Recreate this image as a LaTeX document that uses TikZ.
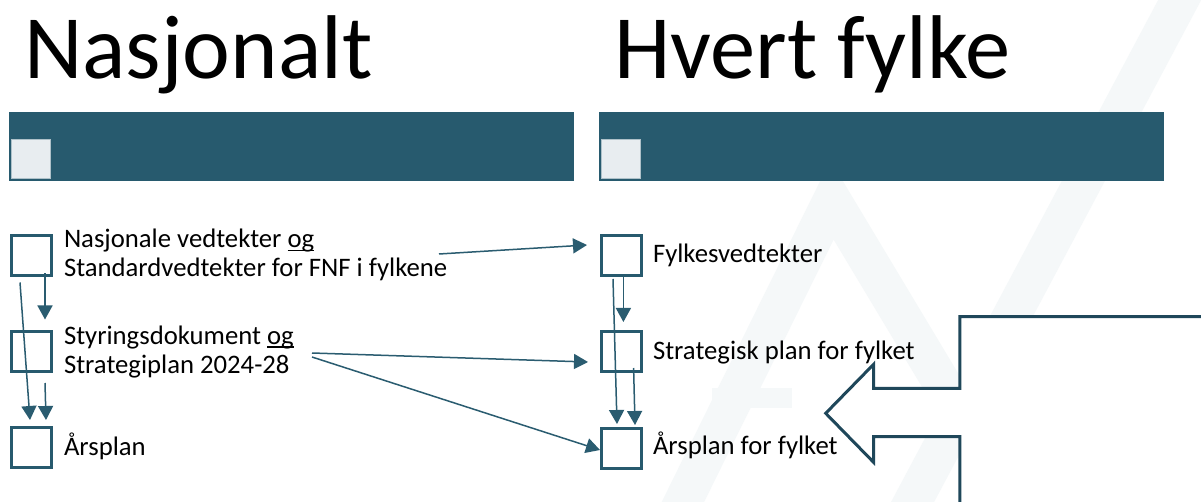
\documentclass[tikz,border=0pt]{standalone}
\usepackage{fontspec}
\setmainfont{Carlito}
\usetikzlibrary{arrows.meta,calc}
\definecolor{fnfteal}{HTML}{275A6E}
\definecolor{fnfline}{HTML}{2A5C70}
\definecolor{fnfdark}{HTML}{1F475A}
\definecolor{fnflight}{HTML}{E8EDF0}
\definecolor{wmark}{HTML}{F5F8F9}
\newcommand\ulog[1]{\setbox0\hbox{#1}\rlap{\rule[-3.5pt]{\wd0}{1.4pt}}\box0}
\begin{document}
\begin{tikzpicture}[x=1pt,y=-1pt,
  title/.style={inner sep=0pt,outer sep=0pt,anchor=base west,font=\fontsize{90.5}{90}\selectfont},
  lbl/.style={inner sep=0pt,outer sep=0pt,anchor=base west,font=\fontsize{26.7}{29}\selectfont},
  bar/.style={fill=fnfteal,draw=none,minimum width=565pt,minimum height=69pt,inner sep=0pt,outer sep=0pt},
  chip/.style={fill=fnflight,draw=fnflight!70!fnfteal,line width=0.8pt,minimum size=39pt,inner sep=0pt,outer sep=0pt},
  box/.style={draw=fnfteal,line width=3pt,fill=white,minimum size=40pt,inner sep=0pt,outer sep=0pt},
  conn/.style={draw=fnfline,line width=1.5pt,-{Triangle[length=14pt,width=15pt]}},
  blockarrow/.style={draw=fnfdark,line width=3pt,line join=miter}
]
\useasboundingbox (0,0) rectangle (1201,502);
\fill[white] (0,0) rectangle (1201,502);
% watermark
\begin{scope}[wmark,line width=38pt,line cap=butt,line join=miter]
\draw (674,520) -- (832,200) -- (1000,480);
\draw (1185,-10) -- (903,520);
\draw[line width=20pt] (712,398) -- (792,398);
\end{scope}
% titles
\node[title] (tn) at (24,79) {Nasjonalt};
\node[title] (th) at (614,79) {Hvert fylke};
% bars
\node[bar,anchor=north west] (barL) at (9,112) {};
\node[bar,anchor=north west] (barR) at (599,112) {};
\node[chip,anchor=north west] (chipL) at (11.5,139.5) {};
\node[chip,anchor=north west] (chipR) at (601.5,139.5) {};
% boxes
\node[box] (L1) at (31,255.5) {};
\node[box] (L2) at (31,351.5) {};
\node[box] (L3) at (31,447.5) {};
\node[box] (R1) at (621,255.5) {};
\node[box] (R2) at (621,351) {};
\node[box] (R3) at (621,448) {};
% labels
\node[lbl] (t1a) at (64,248) {Nasjonale vedtekter \ulog{og}};
\node[lbl] (t1b) at (64,277) {Standardvedtekter for FNF i fylkene};
\node[lbl] (t2a) at (64,344) {Styringsdokument \ulog{og}};
\node[lbl] (t2b) at (64,373) {Strategiplan 2024-28};
\node[lbl] (t3) at (64,455) {Årsplan};
\node[lbl] (r1) at (653,263) {Fylkesvedtekter};
\node[lbl] (r2) at (653,359) {Strategisk plan for fylket};
\node[lbl] (r3) at (653,454) {Årsplan for fylket};
% connector start points
\coordinate (s1) at (439,254);
\coordinate (s2) at (312,353);
\coordinate (s3) at (312,357);
% left column
\draw[conn] ($(L1.south)+(14,-2)$) -- ($(L2.north)+(14,-12)$);
\draw[conn] ($(L1.south)+(-11,7)$) -- ($(L3.north)+(-1,-7.5)$);
\draw[conn] ($(L2.south)+(14,11.5)$) -- ($(L3.north)+(15,-7.5)$);
% right column
\draw[conn] ($(R1.south)+(2.4,1.5)$) -- ($(R2.north)+(2.4,-9)$);
\draw[conn] ($(R1.south)+(-8,3.5)$) -- ($(R3.north)+(-4,-4)$);
\draw[conn] ($(R2.south)+(12.6,-3)$) -- ($(R3.north)+(14,-3)$);
% cross connectors
\draw[conn] (s1) -- ($(R1.west)+(-14,-10.5)$);
\draw[conn] (s2) -- ($(R2.west)+(-13,11)$);
\draw[conn] (s3) -- ($(R3.west)+(-1,2)$);
% block arrow
\fill[white] (1210,316.7) -- (959.8,316.7) -- (959.8,388.3) -- (873.6,388.3) -- (873.6,364.3) -- (825.7,413.3) -- (873.6,462.3) -- (873.6,436.7) -- (959.8,436.7) -- (959.8,510) -- (1210,510) -- cycle;
\draw[blockarrow] (1210,316.7) -- (959.8,316.7) -- (959.8,388.3) -- (873.6,388.3) -- (873.6,364.3) -- (825.7,413.3) -- (873.6,462.3) -- (873.6,436.7) -- (959.8,436.7) -- (959.8,510);
\end{tikzpicture}
\end{document}
